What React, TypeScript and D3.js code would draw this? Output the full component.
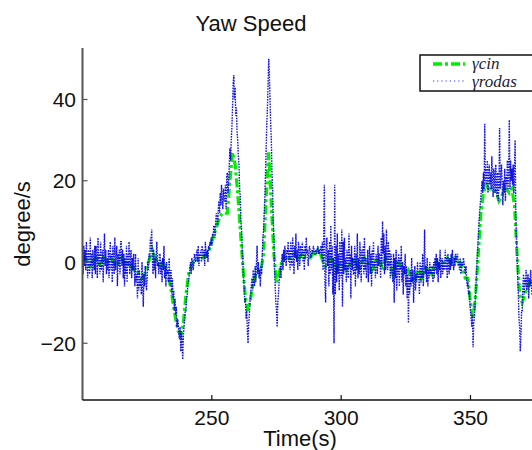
import React from "react";
import * as d3 from "d3";

// Green (gamma_cin) sampled every 1 s from t = 200
const cinStart = 200;
const cinStep = 1;
const cinValues = [
  0, 1, 0, -1, 0, 1, 0, -1, 1, 0,
  0, 1, 0, -1, 0, 1, 0, -1, 0, -1,
  -2, -2, -3, -4, -3, -1, 1, 3, 1, 0,
  -1, 0, -1, -3, -6, -10, -14, -17, -18, -15,
  -8, -3, -1, 0, 0, 1, 1, 1, 2, 3,
  5, 7, 9, 11, 12, 12, 12, 20, 27, 24,
  17, 8, -1, -9, -12, -9, -5, -3, -2, -2,
  2, 16, 27, 14, 2, -5, -3, 0, 1, 1,
  1, 1, 2, 1, 1, 2, 1, 1, 1, 2,
  2, 3, 2, 0, -1, 0, 1, 0, -2, -1,
  0, -1, -2, -1, 0, 1, -1, -2, 0, 1,
  0, -1, -2, 0, 1, 0, -2, 1, 0, -1,
  -3, -1, 0, -1, -2, -3, -2, -4, -5, -3,
  -2, -4, -2, -1, -2, -3, -1, 0, -1, 0,
  0, 1, 0, 0, 1, 0, 0, -2, -4, -4,
  -10, -14, -8, 2, 12, 17, 19, 18, 18, 18,
  17, 15, 16, 18, 18, 17, 18, 14, 2, -8,
  -10, -8, -6, -5, -5,
];

// Blue (gamma_rodas) sampled every 0.25 s from t = 200 (one row = 5 s)
const rodasStart = 200;
const rodasStep = 0.25;
const rodasValues = [
  2, -3, 4, -1, 3, -2, 5, 0, -4, 3, 1, -3, 6, -1, 2, -4, 3, 0, -2, 4,
  -3, 4, 1, -4, 6, -1, 2, -3, 5, -2, 0, 3, -5, 2, 7, -1, 3, -3, 1, -2,
  3, -4, 1, 5, -2, 2, -5, 4, 0, -3, 6, -2, 1, 4, -6, 2, -1, 3, -3, 5,
  5, -1, 3, -4, 2, -6, 1, -3, 4, -5, 2, -1, 5, -3, 0, 3, -4, 1, -2, 2,
  -1, -6, 2, -5, -3, -9, 1, -7, -2, -6, -4, -8, 0, -5, -11, -3, -6, -1, -4, -7,
  -4, 0, -2, 2, 1, 6, 3, 8, 1, -3, 3, -2, 1, -4, 2, 5, -1, 0, -3, 2,
  2, -3, 0, -5, 1, -2, 4, -4, -1, -6, 0, -3, -2, -5, 1, -4, -6, -2, -8, -4,
  -9, -7, -12, -9, -13, -11, -16, -14, -15, -18, -19, -16, -22, -17, -20, -24, -18, -16, -14, -12,
  -12, -9, -8, -5, -5, -3, -2, 0, -3, 1, 0, -2, -1, 2, 1, 0, 2, 3, 0, 4,
  -1, 2, 1, 3, 0, 4, 2, 1, 3, -1, 5, 2, 1, 3, 0, 4, 3, 5, 4, 6,
  4, 7, 6, 9, 8, 6, 10, 12, 11, 9, 13, 15, 12, 17, 14, 19, 16, 13, 18, 15,
  15, 19, 13, 21, 22, 17, 20, 24, 28, 25, 30, 33, 38, 44, 46, 40, 43, 36, 38, 32,
  30, 26, 24, 18, 16, 10, 8, 3, 0, -4, -6, -10, -9, -14, -12, -17, -20, -15, -13, -10,
  -8, -6, -4, -7, -2, -5, -6, -1, -5, 0, 4, -3, 0, -4, -2, -6, -1, -3, 2, 6,
  8, 12, 16, 22, 28, 34, 38, 44, 50, 46, 40, 34, 30, 22, 18, 10, 6, -2, -6, -10,
  -12, -16, -10, -8, -5, -3, -1, -4, 1, 2, -2, 3, 0, 4, 1, -1, 3, 2, 5, 0,
  3, -2, 5, 1, -1, 6, 2, -3, 4, 1, 7, 0, 3, -2, 5, 2, -1, 4, 1, 3,
  5, 0, 3, -2, 4, 1, 6, 2, 3, -1, 2, 4, 3, 1, 2, 3, 2, 4, 3, 2,
  2, 3, 2, 3, 4, 2, 3, 2, 3, 4, 1, 5, -2, 6, 19, -6, -10, 4, 6, -1,
  3, -6, 5, -3, 9, -2, 4, -8, 1, -20, 19, -8, 4, -5, 7, -3, 2, -7, 5, 0,
  -4, 8, -11, 5, -3, 6, -2, 1, -5, 3, 0, -4, 7, -1, 2, -9, 4, -2, 1, -3,
  -3, 4, -6, 2, -2, 7, -4, 1, -3, 5, 0, -5, 3, -1, 4, -3, 6, -2, 1, -4,
  -2, 3, -5, 1, 4, -3, 2, -6, 3, -1, 5, -2, 0, -4, 2, 1, -3, 4, -1, 2,
  2, -4, 6, -1, 10, 2, 7, -3, 4, -2, 8, 1, -2, 5, -1, 3, -4, 2, 0, -3,
  -5, 2, -10, 1, -4, 3, -7, 0, -3, 2, -6, 1, -2, 4, -5, 0, -8, -1, -3, 2,
  -6, -1, -9, -3, -15, -4, -8, -2, -6, 1, -5, -2, -10, -4, -1, -7, -3, -5, 0, -4,
  -3, -8, 0, -5, -1, -4, 2, -6, -2, 8, -3, -1, -5, 1, -6, -2, -4, 0, -3, -1,
  -3, -1, -5, 0, -4, 1, -2, 2, -3, 1, -5, 0, -2, 3, -4, -1, 1, -3, 0, -2,
  -1, 3, -2, 1, -4, 2, 0, -3, 1, -2, 2, -1, 3, 0, -2, 1, -1, 2, 0, 1,
  2, -1, 0, -2, 1, -3, -2, 0, -1, 1, 0, -2, -3, -1, -4, -6, -5, -8, -7, -10,
  -12, -14, -16, -13, -21, -15, -14, -10, -8, -4, 0, 3, 6, 9, 12, 14, 16, 18, 20, 17,
  22, 18, 34, 20, 23, 19, 25, 17, 21, 24, 19, 22, 18, 26, 20, 16, 23, 21, 17, 24,
  20, 16, 22, 15, 19, 33, 18, 21, 24, 19, 14, 20, 17, 23, 15, 21, 19, 25, 18, 22,
  35, 18, 25, 20, 23, 19, 24, 17, 22, 30, 12, 6, 2, -4, -8, -14, -16, -22, -18, -12,
  -12, -6, -3, -8, -4, -6, -2, -7, -5, -3, -9, -4, -6, -2, -5, -8,
];

const xTicks = [250, 300, 350];
const yTicks = [-20, 0, 20, 40];

const W = 532;
const H = 450;
const left = 82.5;
const top = 48;
const bottom = 400;

export default function App() {
  const x = d3.scaleLinear().domain([200, 350]).range([left, 470.5]);
  const y = d3.scaleLinear().domain([-20, 40]).range([343.25, 99.5]);

  const cin = cinValues.map((v, i) => [cinStart + i * cinStep, v] as [number, number]);
  const rodas = rodasValues.map((v, i) => [rodasStart + i * rodasStep, v] as [number, number]);

  const line = d3
    .line<[number, number]>()
    .x((d) => x(d[0]))
    .y((d) => y(d[1]));

  const font = "'Liberation Sans', Arial, Helvetica, sans-serif";
  const mathFont = "'Liberation Serif', 'DejaVu Serif', serif";

  return (
    <svg
      width={W}
      height={H}
      style={{ position: "absolute", left: 0, top: 0, background: "#fff" }}
    >
      <defs>
        <clipPath id="plotClip">
          <rect x={left} y={top} width={W - left} height={bottom - top} />
        </clipPath>
      </defs>
      <text x={251} y={31} textAnchor="middle" fontFamily={font} fontSize={22} fill="#111">
        Yaw Speed
      </text>

      <g clipPath="url(#plotClip)">
        <path
          d={line(cin) || ""}
          fill="none"
          stroke="#00ee00"
          strokeWidth={3.2}
          strokeDasharray="9,3,3,3"
        />
        <path
          d={line(rodas) || ""}
          fill="none"
          stroke="#0000e6"
          strokeWidth={1.4}
          strokeDasharray="1.6,1.1"
          opacity={0.92}
        />
      </g>

      {/* axes */}
      <line x1={left} x2={left} y1={top} y2={bottom} stroke="#555" strokeWidth={2} />
      <line x1={left} x2={W} y1={bottom} y2={bottom} stroke="#111" strokeWidth={1.5} />

      {yTicks.map((t) => (
        <g key={"y" + t}>
          <line x1={left} x2={left + 5} y1={y(t)} y2={y(t)} stroke="#555" strokeWidth={1.2} />
          <text
            x={76}
            y={y(t)}
            dy="0.36em"
            textAnchor="end"
            fontFamily={font}
            fontSize={21}
            fill="#111"
          >
            {t < 0 ? "\u2212" + Math.abs(t) : String(t)}
          </text>
        </g>
      ))}
      {xTicks.map((t) => (
        <g key={"x" + t}>
          <line x1={x(t)} x2={x(t)} y1={bottom} y2={bottom - 5} stroke="#111" strokeWidth={1.2} />
          <text
            x={x(t)}
            y={425}
            textAnchor="middle"
            fontFamily={font}
            fontSize={21}
            fill="#111"
          >
            {t}
          </text>
        </g>
      ))}

      <text x={300} y={446} textAnchor="middle" fontFamily={font} fontSize={22} fill="#111">
        Time(s)
      </text>
      <text
        transform={`translate(30,${(top + bottom) / 2}) rotate(-90)`}
        textAnchor="middle"
        fontFamily={font}
        fontSize={22}
        fill="#111"
      >
        degree/s
      </text>

      {/* legend */}
      <rect x={420} y={55} width={130} height={36} fill="#fff" stroke="#111" strokeWidth={1.5} />
      <line
        x1={433}
        x2={465}
        y1={64}
        y2={64}
        stroke="#00ee00"
        strokeWidth={3.5}
        strokeDasharray="9,3,3,3"
      />
      <line
        x1={433}
        x2={465}
        y1={81}
        y2={81}
        stroke="#3333ff"
        strokeWidth={1.2}
        strokeDasharray="1.2,3"
      />
      <text x={472} y={69} fontFamily={mathFont} fontStyle="italic" fontSize={17} fill="#223">
        γcin
      </text>
      <text x={472} y={87} fontFamily={mathFont} fontStyle="italic" fontSize={17} fill="#223">
        γrodas
      </text>
    </svg>
  );
}
